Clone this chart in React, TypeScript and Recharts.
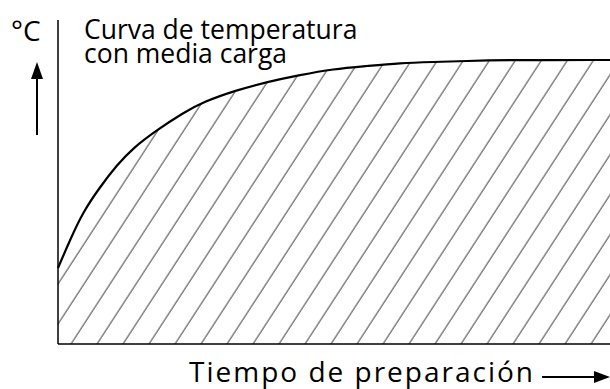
import { Area, AreaChart, XAxis, YAxis } from "recharts";

// time since start (arbitrary units) vs. temperature (arbitrary units)
const tiempo = [0, 12, 25, 42, 59, 75, 99, 125, 145, 179, 209, 242, 275, 309, 342, 375, 409, 442, 552];
const temperatura = [76, 104, 132, 157, 179, 196, 214, 231, 242, 254, 262, 269, 275, 278, 281, 282, 283, 284, 284];

const rows = tiempo.map((t, i) => ({ t, temp: temperatura[i] }));

const font = "'Open Sans', 'Noto Sans', sans-serif";

export default function App() {
  return (
    <div style={{ position: "absolute", left: 0, top: 0, width: 610, height: 389, background: "#fff", fontFamily: font }}>
      <AreaChart width={610} height={389} data={rows} margin={{ top: 20, right: 0, bottom: 0, left: 0 }}>
        <defs>
          <pattern id="hatch" patternUnits="userSpaceOnUse" x={8.6} y={0} width={26} height={40}>
            <line x1={0} y1={40} x2={26} y2={0} stroke="#222" strokeWidth={1} />
            <line x1={-2} y1={3} x2={2} y2={-3} stroke="#222" strokeWidth={1} />
            <line x1={24} y1={43} x2={28} y2={37} stroke="#222" strokeWidth={1} />
          </pattern>
        </defs>
        <XAxis dataKey="t" type="number" domain={[0, 552]} height={45} tick={false} tickLine={false} axisLine={{ stroke: "#000", strokeWidth: 1.5 }} />
        <YAxis type="number" domain={[0, 324]} width={58} tick={false} tickLine={false} axisLine={{ stroke: "#000", strokeWidth: 1.5 }} />
        <Area isAnimationActive={false} type="basis" dataKey="temp" stroke="#000" strokeWidth={2.2} fill="url(#hatch)" fillOpacity={1} dot={false} activeDot={false} />
      </AreaChart>
      <div style={{ position: "absolute", left: 11, top: 15, fontSize: 28, lineHeight: "30px", color: "#000" }}>°C</div>
      <div style={{ position: "absolute", left: 84, top: 17, fontSize: 26.5, lineHeight: "24px", color: "#000", whiteSpace: "nowrap" }}>
        Curva de temperatura
      </div>
      <div style={{ position: "absolute", left: 84, top: 41, fontSize: 26.5, lineHeight: "24px", color: "#000", whiteSpace: "nowrap" }}>
        con media carga
      </div>
      <div style={{ position: "absolute", left: 189, top: 356, fontSize: 28, lineHeight: "30px", letterSpacing: 2, color: "#000", whiteSpace: "nowrap" }}>
        Tiempo de preparación
      </div>
      <svg width={610} height={389} style={{ position: "absolute", left: 0, top: 0, pointerEvents: "none" }}>
        <line x1={37} y1={74} x2={37} y2={135} stroke="#000" strokeWidth={2} />
        <polygon points="37,62 31,79 43,79" fill="#000" />
        <line x1={542} y1={377} x2={598} y2={377} stroke="#000" strokeWidth={2} />
        <polygon points="610,377 594,371 594,383" fill="#000" />
      </svg>
    </div>
  );
}
